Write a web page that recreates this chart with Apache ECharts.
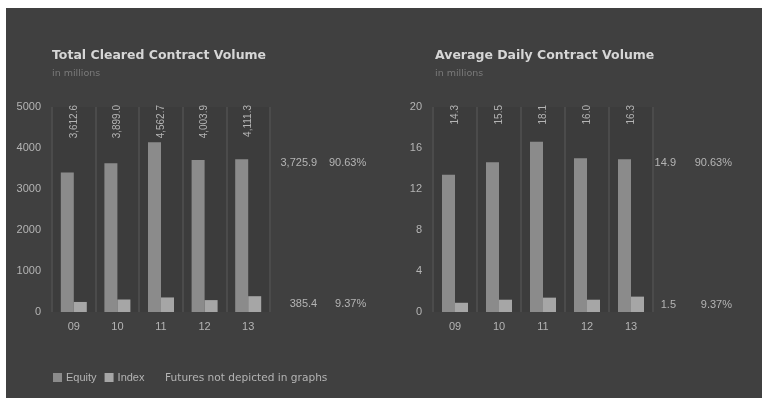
<!DOCTYPE html>
<html>
<head>
<meta charset="utf-8">
<script src="https://cdn.jsdelivr.net/npm/echarts@6/dist/echarts.min.js"></script>
<style>
  html, body { margin: 0; padding: 0; background: #ffffff; }
  #chart { position: absolute; left: 6px; top: 8px; width: 756px; height: 390px; background: #404040; }
</style>
</head>
<body>
<div id="chart"></div>
<script>
// Options contract volume, 2009-2013
const years = ['09', '10', '11', '12', '13'];

// Total cleared contract volume (millions)
const totalEquity = [3400, 3630, 4140, 3705, 3725.9];
const totalIndex = [245, 305, 355, 290, 385.4];
const totalAll = [3612.6, 3899.0, 4562.7, 4003.9, 4111.3];

// Average daily contract volume (millions)
const dailyEquity = [13.4, 14.6, 16.6, 15.0, 14.9];
const dailyIndex = [0.9, 1.2, 1.4, 1.2, 1.5];
const dailyAll = [14.3, 15.5, 18.1, 16.0, 16.3];

const leftTicks = { max: 5000, interval: 1000 };
const rightTicks = { max: 20, interval: 4 };

const FONT = 'Liberation Sans, Arial, sans-serif';
const WIDE_FONT = 'DejaVu Sans, sans-serif';
const EQUITY_COLOR = '#8b8b8b';
const INDEX_COLOR = '#a6a6a6';
const TEXT_COLOR = '#b4b4b4';

const last = years.length - 1;
const lastSum = totalEquity[last] + totalIndex[last];
const equityShare = (totalEquity[last] / lastSum * 100).toFixed(2) + '%';
const indexShare = (totalIndex[last] / lastSum * 100).toFixed(2) + '%';

function fmtThousands(v, digits) {
  return v.toLocaleString('en-US', { minimumFractionDigits: digits, maximumFractionDigits: digits });
}

// Side label on the latest bar: value and share in two right-aligned columns
function sideLabel(valueText, shareText, dx, dy, valueWidth, shareWidth) {
  return {
    show: true,
    position: [dx, dy],
    align: 'left',
    verticalAlign: 'middle',
    formatter: '{v|' + valueText + '}{p|' + shareText + '}',
    rich: {
      v: { width: valueWidth, align: 'right', color: TEXT_COLOR, fontSize: 11, fontFamily: FONT },
      p: { width: shareWidth, align: 'right', color: TEXT_COLOR, fontSize: 11, fontFamily: FONT }
    }
  };
}

function barData(values, labelOpt) {
  return values.map((v, i) => i === last ? { value: v, label: labelOpt } : v);
}

function xAxes(gridIndex, topLabels) {
  return [
    {
      type: 'category', gridIndex: gridIndex, data: years, position: 'bottom',
      axisLine: { show: false }, axisTick: { show: false },
      axisLabel: { color: TEXT_COLOR, fontSize: 11, fontFamily: FONT, margin: 9 },
      splitLine: { show: true, lineStyle: { color: '#4b4b4b', width: 2 } }
    },
    {
      // column totals, written upward inside the top of the plot
      type: 'category', gridIndex: gridIndex, data: topLabels, position: 'top',
      axisLine: { show: false }, axisTick: { show: false },
      axisLabel: {
        inside: true, rotate: -90, align: 'right', verticalAlign: 'middle', margin: -2,
        color: TEXT_COLOR, fontSize: 10, fontFamily: FONT
      }
    }
  ];
}

function yAxis(gridIndex, ticks) {
  return {
    type: 'value', gridIndex: gridIndex, min: 0, max: ticks.max, interval: ticks.interval,
    axisLine: { show: false }, axisTick: { show: false }, splitLine: { show: false },
    axisLabel: { color: TEXT_COLOR, fontSize: 11, fontFamily: FONT, margin: 11, formatter: v => String(v) }
  };
}

const chart = echarts.init(document.getElementById('chart'), null, { renderer: 'canvas' });

const titleStyle = { color: '#d6d6d6', fontSize: 12.5, fontWeight: 'bold', fontFamily: WIDE_FONT };
const subStyle = { color: '#7a7a7a', fontSize: 9.5, fontFamily: WIDE_FONT };

chart.setOption({
  backgroundColor: '#404040',
  animation: false,
  title: [
    {
      text: 'Total Cleared Contract Volume', subtext: 'in millions',
      left: 46, top: 41, padding: 0, itemGap: 7,
      textStyle: titleStyle, subtextStyle: subStyle
    },
    {
      text: 'Average Daily Contract Volume', subtext: 'in millions',
      left: 429, top: 41, padding: 0, itemGap: 7,
      textStyle: titleStyle, subtextStyle: subStyle
    },
    {
      text: 'Futures not depicted in graphs',
      left: 159, top: 365, padding: 0,
      textStyle: { color: TEXT_COLOR, fontSize: 10.6, fontWeight: 'normal', fontFamily: WIDE_FONT }
    }
  ],
  legend: {
    left: 42, top: 359, itemWidth: 9, itemHeight: 9, itemGap: 8,
    icon: 'rect',
    textStyle: { color: TEXT_COLOR, fontSize: 11, fontFamily: FONT, padding: [0, 0, 0, -1] },
    data: ['Equity', 'Index']
  },
  grid: [
    { left: 46, top: 99, width: 218, height: 205, backgroundColor: '#3c3c3c', show: true, borderWidth: 0 },
    { left: 427, top: 99, width: 220, height: 205, backgroundColor: '#3c3c3c', show: true, borderWidth: 0 }
  ],
  xAxis: [
    ...xAxes(0, totalAll.map(v => fmtThousands(v, 1))),
    ...xAxes(1, dailyAll.map(v => v.toFixed(1)))
  ],
  yAxis: [yAxis(0, leftTicks), yAxis(1, rightTicks)],
  series: [
    {
      name: 'Equity', type: 'bar', xAxisIndex: 0, yAxisIndex: 0,
      barWidth: 13, barGap: '0%', itemStyle: { color: EQUITY_COLOR },
      data: barData(totalEquity, sideLabel(fmtThousands(totalEquity[last], 1), equityShare, 40, 4, 42, 49))
    },
    {
      name: 'Index', type: 'bar', xAxisIndex: 0, yAxisIndex: 0,
      barWidth: 13, barGap: '0%', itemStyle: { color: INDEX_COLOR },
      data: barData(totalIndex, sideLabel(fmtThousands(totalIndex[last], 1), indexShare, 27, 8, 42, 49))
    },
    {
      name: 'Equity', type: 'bar', xAxisIndex: 2, yAxisIndex: 1,
      barWidth: 13, barGap: '0%', itemStyle: { color: EQUITY_COLOR },
      data: barData(dailyEquity, sideLabel(dailyEquity[last].toFixed(1), equityShare, 36, 4, 22, 56))
    },
    {
      name: 'Index', type: 'bar', xAxisIndex: 2, yAxisIndex: 1,
      barWidth: 13, barGap: '0%', itemStyle: { color: INDEX_COLOR },
      data: barData(dailyIndex, sideLabel(dailyIndex[last].toFixed(1), indexShare, 23, 8, 22, 56))
    }
  ]
});
</script>
</body>
</html>
